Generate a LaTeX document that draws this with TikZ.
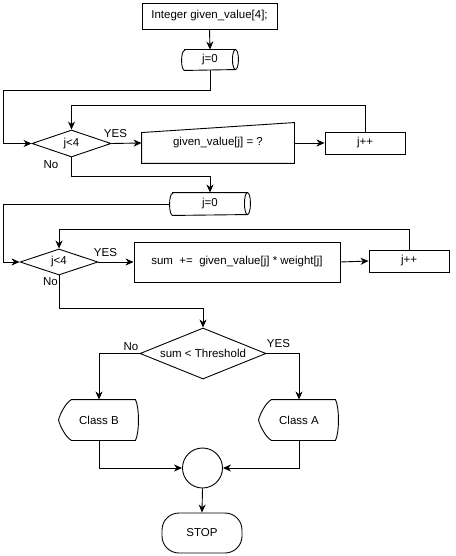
\documentclass[tikz,border=0pt]{standalone}
\usepackage{fontspec}
\setmainfont{Liberation Sans}
\usetikzlibrary{shapes.geometric,arrows.meta,calc}
\begin{document}
\begin{tikzpicture}[x=1pt,y=-1pt,line width=0.9pt,font=\fontsize{11.5}{13}\selectfont,
  box/.style={draw,rectangle,inner sep=0pt},
  ghost/.style={rectangle,inner sep=0pt},
  dec/.style={draw,diamond,inner sep=0pt},
  lbl/.style={inner sep=0pt},
  arr/.style={-{Stealth[length=8pt,width=7pt,inset=2.5pt]}}]
\useasboundingbox (0,0) rectangle (455,556);

% first part
\node[box,minimum width=135,minimum height=26] (init) at (209.5,16) {Integer given\_value[4];};
\node[ghost,minimum width=56,minimum height=20] (c1) at (210,60) {j=0};
\draw ([xshift=3]c1.north west) -- ([xshift=-3]c1.north east)
      arc[start angle=90,end angle=-90,x radius=3pt,y radius=10pt] -- ([xshift=3]c1.south west)
      arc[start angle=270,end angle=90,x radius=3pt,y radius=10pt] -- cycle;
\draw ([xshift=-3]c1.north east) arc[start angle=90,end angle=270,x radius=3pt,y radius=10pt];

\node[dec,minimum width=79,minimum height=27,aspect=2.93] (d1) at (71.5,143.5) {j<4};
\node[ghost,minimum width=152,minimum height=40] (mi) at (218,143) {given\_value[j] = ?};
\draw (mi.south west) -- (mi.south east) -- (mi.north east) -- ([yshift=-10]mi.north west) -- cycle;
\node[box,minimum width=80,minimum height=22] (jp1) at (365,143) {j++};

\node[lbl] (y1) at (115.5,134) {YES};
\node[lbl] (n1) at (51,165) {No};

% second part
\node[ghost,minimum width=80,minimum height=22] (c2) at (210,204) {j=0};
\draw ([xshift=3]c2.north west) -- ([xshift=-3]c2.north east)
      arc[start angle=90,end angle=-90,x radius=3pt,y radius=11pt] -- ([xshift=3]c2.south west)
      arc[start angle=270,end angle=90,x radius=3pt,y radius=11pt] -- cycle;
\draw ([xshift=-3]c2.north east) arc[start angle=90,end angle=270,x radius=3pt,y radius=11pt];

\node[dec,minimum width=78,minimum height=26,aspect=3] (d2) at (59,262) {j<4};
\node[box,minimum width=206,minimum height=40] (sum) at (237,262) {sum\ \ +=\ \ given\_value[j] * weight[j]};
\node[box,minimum width=80,minimum height=22] (jp2) at (409,261) {j++};

\node[lbl] (y2) at (105.5,253) {YES};
\node[lbl] (n2) at (50.5,282) {No};

% decision
\node[dec,minimum width=126,minimum height=51,aspect=2.47] (d3) at (203,353.5) {sum < Threshold};
\node[lbl] (n3) at (131,347) {No};
\node[lbl] (y3) at (278.5,344) {YES};

\node[ghost,minimum width=80,minimum height=40] (cb) at (99,420) {Class B};
\node[ghost,minimum width=80,minimum height=40] (ca) at (299,420) {Class A};
\foreach \n in {cb,ca}{
  \draw ([xshift=13]\n.north west) -- ([xshift=-4]\n.north east)
    .. controls ([xshift=0,yshift=-8]\n.north east) and ([xshift=0,yshift=8]\n.south east) .. ([xshift=-4]\n.south east)
    -- ([xshift=13]\n.south west)
    .. controls ([xshift=7,yshift=3]\n.south west) and ([xshift=1,yshift=-5]\n.west) .. (\n.west)
    .. controls ([xshift=1,yshift=5]\n.west) and ([xshift=7,yshift=-3]\n.north west) .. ([xshift=13]\n.north west) -- cycle;
}
\node[draw,circle,minimum size=40,inner sep=0pt] (jn) at (202.5,468) {};
\node[draw,rectangle,rounded corners=17,minimum width=80,minimum height=40,inner sep=0pt] (stop) at (202,533) {STOP};

% connectors
\draw[arr] (init.south) -- (c1.north);
\draw[arr] (c1.south) -- ++(0,20) -| ([xshift=-28]d1.west) -- (d1.west);
\draw[arr] (d1.east) -- (mi.west);
\draw[arr] (mi.east) -- (jp1.west);
\draw[arr] (jp1.north) |- ([yshift=24]d1.north) -- (d1.north);
\draw[arr] (d1.south) -- ++(0,19) -| (c2.north);
\draw[arr] (c2.west) -| ([xshift=-16]d2.west) -- (d2.west);
\draw[arr] (d2.east) -- (sum.west);
\draw[arr] (sum.east) -- (jp2.west);
\draw[arr] (jp2.north) |- ([yshift=19]d2.north) -- (d2.north);
\draw[arr] (d2.south) -- ++(0,33) -| (d3.north);
\draw[arr] (d3.west) -| (cb.north);
\draw[arr] (d3.east) -| (ca.north);
\draw[arr] (cb.south) |- (jn.west);
\draw[arr] (ca.south) |- (jn.east);
\draw[arr] (jn.south) -- (stop.north);
\end{tikzpicture}
\end{document}
